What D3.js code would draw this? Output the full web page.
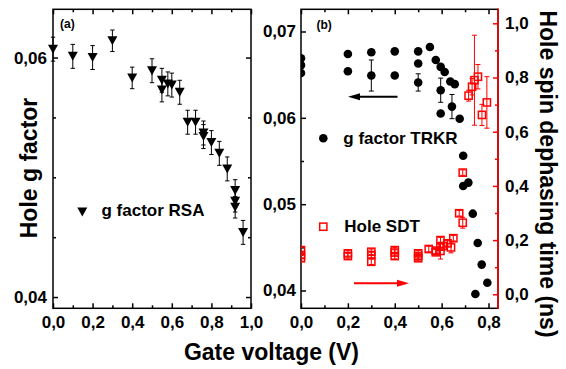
<!DOCTYPE html>
<html>
<head>
<meta charset="utf-8">
<script src="https://cdn.jsdelivr.net/npm/d3@7"></script>
<style>
  body { margin: 0; background: #fff; }
  svg text { font-family: "Liberation Sans", Arial, sans-serif; font-weight: bold; }
</style>
</head>
<body>
<div id="chart-area"></div>
<script>
// (a) g factor from RSA
const rsaVoltage = [0, 0.1, 0.2, 0.3, 0.4, 0.5, 0.55, 0.55, 0.58, 0.6, 0.64, 0.68, 0.72, 0.76, 0.76, 0.8, 0.84, 0.88, 0.92, 0.92, 0.92, 0.96];
const rsaG = [0.0607, 0.0601, 0.0600, 0.0614, 0.0583, 0.0589, 0.0581, 0.0573, 0.0578, 0.0577, 0.0571, 0.0546, 0.0546, 0.0537, 0.0534, 0.0529, 0.0520, 0.0507, 0.0489, 0.0480, 0.0475, 0.0454];
const rsaErr = [0.001, 0.001, 0.001, 0.0009, 0.0009, 0.001, 0.001, 0.001, 0.001, 0.001, 0.001, 0.001, 0.001, 0.001, 0.001, 0.001, 0.001, 0.001, 0.0009, 0.0009, 0.0009, 0.001];

// (b) g factor from TRKR (left axis)
const trkrVoltage = [0, 0, 0, 0.2, 0.2, 0.3, 0.3, 0.4, 0.4, 0.5, 0.5, 0.5, 0.55, 0.575, 0.596, 0.596, 0.596, 0.613, 0.637, 0.656, 0.644, 0.677, 0.692, 0.692, 0.714, 0.733, 0.754, 0.771, 0.795, 0.744];
const trkrG = [0.0669, 0.0661, 0.0652, 0.0674, 0.0654, 0.0676, 0.0649, 0.0677, 0.0649, 0.0677, 0.0663, 0.0641, 0.0682, 0.0667, 0.0659, 0.0632, 0.0605, 0.0653, 0.0642, 0.0639, 0.0613, 0.0599, 0.0556, 0.0521, 0.0525, 0.0489, 0.0455, 0.0430, 0.0409, 0.0396];
const trkrErr = [0, 0, 0, 0, 0, 0, 0.0018, 0, 0, 0, 0, 0.001, 0, 0, 0, 0.0014, 0, 0, 0, 0, 0.0014, 0, 0, 0, 0, 0, 0, 0, 0, 0];

// (b) hole spin dephasing time (right axis, ns)
const sdtVoltage = [0, 0, 0, 0.2, 0.2, 0.3, 0.3, 0.3, 0.4, 0.4, 0.4, 0.5, 0.5, 0.5, 0.545, 0.575, 0.575, 0.595, 0.595, 0.595, 0.605, 0.625, 0.64, 0.65, 0.675, 0.69, 0.69, 0.715, 0.73, 0.74, 0.755, 0.772, 0.793];
const sdtTime = [0.163, 0.145, 0.133, 0.151, 0.141, 0.157, 0.145, 0.120, 0.163, 0.154, 0.141, 0.151, 0.141, 0.133, 0.167, 0.161, 0.155, 0.200, 0.176, 0.160, 0.178, 0.188, 0.173, 0.207, 0.299, 0.264, 0.449, 0.733, 0.766, 0.790, 0.803, 0.662, 0.708];
const sdtErr = [0.01, 0.01, 0.01, 0.01, 0.01, 0.01, 0.01, 0.01, 0.01, 0.01, 0.01, 0.01, 0.01, 0.01, 0.01, 0.01, 0.01, 0.01, 0.01, 0.03, 0.01, 0.01, 0.02, 0.01, 0.01, 0.02, 0.01, 0.02, 0.03, 0.166, 0.045, 0.039, 0.095];

// ticks
const xTicksA = [0, 0.2, 0.4, 0.6, 0.8, 1.0];
const xMinorA = [0.1, 0.3, 0.5, 0.7, 0.9];
const yTicksA = [0.04, 0.06];
const yMinorA = [0.045, 0.05, 0.055];
const xTicksB = [0, 0.2, 0.4, 0.6, 0.8];
const xMinorB = [0.1, 0.3, 0.5, 0.7];
const yTicksB = [0.04, 0.05, 0.06, 0.07];
const yMinorB = [0.045, 0.055, 0.065];
const rTicks = [0, 0.2, 0.4, 0.6, 0.8, 1.0];
const rMinor = [0.1, 0.3, 0.5, 0.7, 0.9];

const red = "#ff0000";
const plotTop = 9.3, plotBottom = 308.3;

const svg = d3.select("#chart-area")
  .append("svg")
  .attr("width", 566)
  .attr("height", 369);

// scales
const xA = d3.scaleLinear().domain([0, 1]).range([53, 251]);
const yA = d3.scaleLinear().domain([0.03906, 0.06403]).range([plotBottom, plotTop]);
const xB = d3.scaleLinear().domain([0, 0.8405]).range([301, 498]);
const yB = d3.scaleLinear().domain([0.03794, 0.07257]).range([plotBottom, plotTop]);
const yR = d3.scaleLinear().domain([-0.0517, 1.0517]).range([plotBottom, plotTop]);

const comma = (digits) => (d) => d.toFixed(digits).replace(".", ",");

function addAxis(orient, scale, pos, majors, minors, fmt, color, pad) {
  const maker = { bottom: d3.axisBottom, top: d3.axisTop, left: d3.axisLeft, right: d3.axisRight }[orient];
  const tr = (orient === "bottom" || orient === "top") ? "translate(0," + pos + ")" : "translate(" + pos + ",0)";
  const gMin = svg.append("g").attr("transform", tr)
    .call(maker(scale).tickValues(minors).tickSize(-3).tickFormat(""));
  const gMaj = svg.append("g").attr("transform", tr)
    .call(maker(scale).tickValues(majors).tickSize(-5).tickPadding(pad || 6).tickFormat(fmt || ""));
  [gMin, gMaj].forEach((g) => {
    g.select(".domain").remove();
    g.selectAll("line").attr("stroke", color).attr("stroke-width", 1.5);
  });
  gMaj.selectAll("text")
    .attr("fill", "#000")
    .attr("font-size", 17)
    .style("font-family", "'Liberation Sans', Arial, sans-serif")
    .style("font-weight", "bold");
}

// ---- panel (a) ----
addAxis("bottom", xA, plotBottom, xTicksA, xMinorA, comma(1), "#000", 8);
addAxis("top", xA, plotTop, xTicksA, xMinorA, null, "#000");
addAxis("left", yA, 53, yTicksA, yMinorA, comma(2), "#000", 6);
addAxis("right", yA, 251, yTicksA, yMinorA, null, "#000");

svg.append("rect")
  .attr("x", 53).attr("y", plotTop)
  .attr("width", 251 - 53).attr("height", plotBottom - plotTop)
  .attr("fill", "none").attr("stroke", "#000").attr("stroke-width", 1.5);

const rsa = rsaVoltage.map((v, i) => ({ v, g: rsaG[i], e: rsaErr[i] }));
const gA = svg.append("g");

function errorBars(g, data, xs, ys, key, color, cap) {
  const eb = g.selectAll(null).data(data.filter((d) => d.e > 0)).enter().append("g")
    .attr("stroke", color).attr("stroke-width", 1);
  eb.append("line")
    .attr("x1", (d) => xs(d.v)).attr("x2", (d) => xs(d.v))
    .attr("y1", (d) => ys(d[key] - d.e)).attr("y2", (d) => ys(d[key] + d.e));
  [-1, 1].forEach((s) => {
    eb.append("line")
      .attr("x1", (d) => xs(d.v) - cap).attr("x2", (d) => xs(d.v) + cap)
      .attr("y1", (d) => ys(d[key] + s * d.e)).attr("y2", (d) => ys(d[key] + s * d.e));
  });
}

errorBars(gA, rsa, xA, yA, "g", "#000", 2.2);

const triPath = "M-5,-4.5L5,-4.5L0,4.5Z";
gA.selectAll("path.tri").data(rsa).enter().append("path")
  .attr("class", "tri")
  .attr("d", triPath)
  .attr("transform", (d) => "translate(" + xA(d.v) + "," + yA(d.g) + ")")
  .attr("fill", "#000");

// legend (a)
svg.append("path").attr("d", triPath).attr("transform", "translate(82.3,212)").attr("fill", "#000");
svg.append("text").attr("x", 101.5).attr("y", 216).attr("font-size", 17).text("g factor RSA");
svg.append("text").attr("x", 60).attr("y", 28).attr("font-size", 12).text("(a)");

// ---- panel (b) ----
addAxis("bottom", xB, plotBottom, xTicksB, xMinorB, comma(1), "#000", 8);
addAxis("top", xB, plotTop, xTicksB, xMinorB, null, "#000");
addAxis("left", yB, 301, yTicksB, yMinorB, comma(2), "#000", 5);

svg.append("rect")
  .attr("x", 301).attr("y", plotTop)
  .attr("width", 498 - 301).attr("height", plotBottom - plotTop)
  .attr("fill", "none").attr("stroke", "#000").attr("stroke-width", 1.5);

svg.append("defs").append("clipPath").attr("id", "clipB")
  .append("rect").attr("x", 301).attr("y", plotTop)
  .attr("width", 498 - 301).attr("height", plotBottom - plotTop);

const gB = svg.append("g").attr("clip-path", "url(#clipB)");

const trkr = trkrVoltage.map((v, i) => ({ v, g: trkrG[i], e: trkrErr[i] }));
const sdt = sdtVoltage.map((v, i) => ({ v, t: sdtTime[i], e: sdtErr[i] }));

errorBars(gB, trkr, xB, yB, "g", "#000", 2.5);
gB.selectAll("circle.trkr").data(trkr).enter().append("circle")
  .attr("class", "trkr")
  .attr("cx", (d) => xB(d.v)).attr("cy", (d) => yB(d.g))
  .attr("r", 4.3).attr("fill", "#000");

errorBars(gB, sdt, xB, yR, "t", red, 2.5);
gB.selectAll("rect.sdt").data(sdt).enter().append("rect")
  .attr("class", "sdt")
  .attr("x", (d) => xB(d.v) - 3.6).attr("y", (d) => yR(d.t) - 3.6)
  .attr("width", 7.2).attr("height", 7.2)
  .attr("fill", "none").attr("stroke", red).attr("stroke-width", 1.5);

// right red axis
addAxis("right", yR, 498, rTicks, rMinor, comma(1), red, 7);
svg.append("line")
  .attr("x1", 498).attr("x2", 498).attr("y1", plotTop - 0.75).attr("y2", plotBottom + 0.75)
  .attr("stroke", red).attr("stroke-width", 1.5);

// legend (b)
svg.append("text").attr("x", 316.5).attr("y", 29).attr("font-size", 12).text("(b)");
svg.append("circle").attr("cx", 323.3).attr("cy", 138.3).attr("r", 4.3).attr("fill", "#000");
svg.append("text").attr("x", 343.3).attr("y", 144).attr("font-size", 17).text("g factor TRKR");
svg.append("rect").attr("x", 319.7).attr("y", 223.1).attr("width", 7.2).attr("height", 7.2)
  .attr("fill", "none").attr("stroke", red).attr("stroke-width", 1.5);
svg.append("text").attr("x", 344.3).attr("y", 232).attr("font-size", 17).text("Hole SDT");

// arrows
function arrow(x1, x2, y, color) {
  const dir = Math.sign(x2 - x1);
  svg.append("line").attr("x1", x1).attr("x2", x2 - dir * 10).attr("y1", y).attr("y2", y)
    .attr("stroke", color).attr("stroke-width", 2);
  svg.append("path")
    .attr("d", "M" + x2 + "," + y + "L" + (x2 - dir * 12) + "," + (y - 3.5) + "L" + (x2 - dir * 12) + "," + (y + 3.5) + "Z")
    .attr("fill", color);
}
arrow(397.5, 348, 96.7, "#000");
arrow(354, 409, 283.3, red);

// axis titles
svg.append("text")
  .attr("transform", "translate(37,168) rotate(-90)")
  .attr("text-anchor", "middle").attr("font-size", 23)
  .text("Hole g factor");
svg.append("text")
  .attr("x", 271.5).attr("y", 360)
  .attr("text-anchor", "middle").attr("font-size", 23)
  .text("Gate voltage (V)");
svg.append("text")
  .attr("transform", "translate(540,174) rotate(90)")
  .attr("text-anchor", "middle").attr("font-size", 23)
  .text("Hole spin dephasing time (ns)");
</script>
</body>
</html>
